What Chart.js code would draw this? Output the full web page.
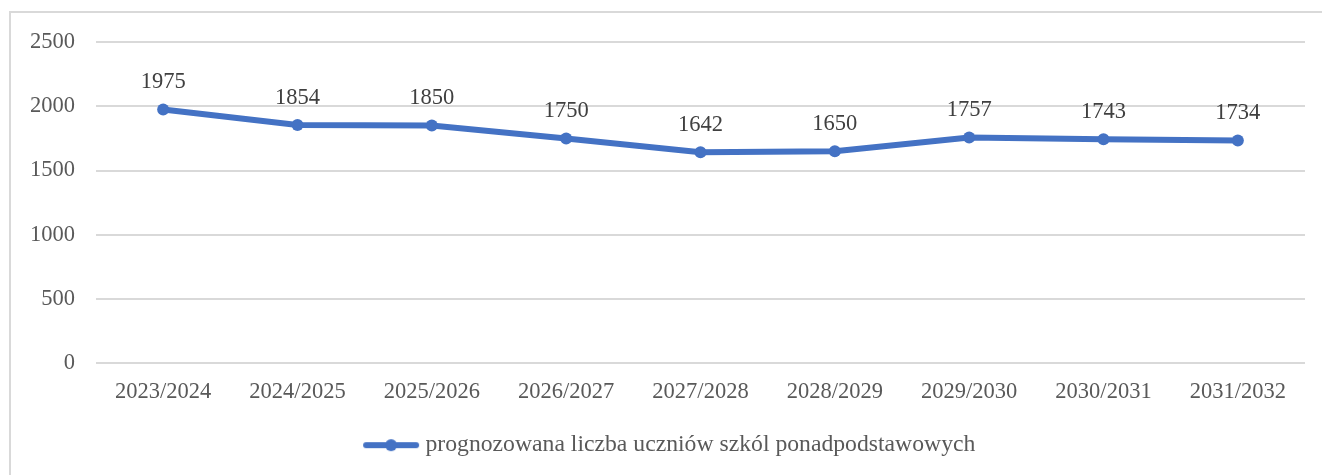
<!DOCTYPE html>
<html>
<head>
<meta charset="utf-8">
<script src="https://cdn.jsdelivr.net/npm/chart.js@4"></script>
<style>
  html, body { margin: 0; padding: 0; background: #fff; overflow: hidden; }
  #frame {
    position: absolute; left: 9px; top: 11px;
    width: 1400px; height: 500px;
    border-left: 2px solid #d9d9d9; border-top: 2px solid #d9d9d9;
  }
  #myChart { position: absolute; left: 0; top: 0; }
</style>
</head>
<body>
<div id="frame"><canvas id="myChart" width="1311" height="462"></canvas></div>
<script>
let labels = ['2023/2024', '2024/2025', '2025/2026', '2026/2027', '2027/2028', '2028/2029', '2029/2030', '2030/2031', '2031/2032'];
let values = [1975, 1854, 1850, 1750, 1642, 1650, 1757, 1743, 1734];
let seriesName = 'prognozowana liczba uczniów szkól ponadpodstawowych';
let yTicks = [0, 500, 1000, 1500, 2000, 2500];

let blue = '#4472c4';
let textColor = '#595959';
let serif = '"Liberation Serif", "Times New Roman", serif';

// legend marker: short line with a dot in the middle (transparent room on the left)
let marker = document.createElement('canvas');
marker.width = 86;
marker.height = 14;
let m = marker.getContext('2d');
m.strokeStyle = blue;
m.lineWidth = 6;
m.lineCap = 'round';
m.beginPath();
m.moveTo(32, 7);
m.lineTo(82, 7);
m.stroke();
m.fillStyle = blue;
m.beginPath();
m.arc(57, 7, 6, 0, Math.PI * 2);
m.fill();

// values written above each point
let valueLabels = {
    id: 'valueLabels',
    afterDatasetsDraw(chart) {
        let ctx = chart.ctx;
        let meta = chart.getDatasetMeta(0);
        ctx.save();
        ctx.font = '22.5px ' + serif;
        ctx.fillStyle = '#404040';
        ctx.textAlign = 'center';
        ctx.textBaseline = 'middle';
        meta.data.forEach((pt, i) => {
            ctx.fillText(String(values[i]), pt.x, pt.y - 27);
        });
        ctx.restore();
    }
};

let myChart = document.getElementById('myChart').getContext('2d');

let chart = new Chart(myChart, {
    type: 'line',
    data: {
        labels: labels,
        datasets: [{
            label: seriesName,
            data: values,
            borderColor: blue,
            backgroundColor: blue,
            borderWidth: 6,
            pointStyle: 'circle',
            pointRadius: 6,
            pointHoverRadius: 6,
            pointBackgroundColor: blue,
            pointBorderWidth: 0,
            tension: 0,
            fill: false
        }]
    },
    options: {
        responsive: false,
        animation: false,
        layout: { padding: { top: 29, right: 17, bottom: 8, left: 0 } },
        scales: {
            x: {
                offset: true,
                grid: { display: false },
                border: { display: false },
                ticks: { color: textColor, font: { family: serif, size: 22.5 }, padding: 7, maxRotation: 0 },
                afterFit: s => { s.height = 60; }
            },
            y: {
                min: 0,
                max: 2500,
                afterBuildTicks: s => { s.ticks = yTicks.map(v => ({ value: v })); },
                grid: { color: '#d9d9d9', lineWidth: 2, drawTicks: false },
                border: { display: false },
                ticks: {
                    color: textColor,
                    font: { family: serif, size: 22.5, lineHeight: 0.6 },
                    padding: 21,
                    callback: v => String(v)
                },
                afterFit: s => { s.width = 85; }
            }
        },
        plugins: {
            legend: {
                position: 'bottom',
                labels: {
                    color: textColor,
                    font: { family: serif, size: 23.7 },
                    usePointStyle: true,
                    pointStyleWidth: 73,
                    padding: 10,
                    generateLabels: c => [{
                        text: seriesName,
                        pointStyle: marker,
                        fillStyle: blue,
                        strokeStyle: blue,
                        lineWidth: 0,
                        datasetIndex: 0,
                        fontColor: textColor
                    }]
                }
            },
            tooltip: { enabled: false }
        }
    },
    plugins: [valueLabels]
});
</script>
</body>
</html>
